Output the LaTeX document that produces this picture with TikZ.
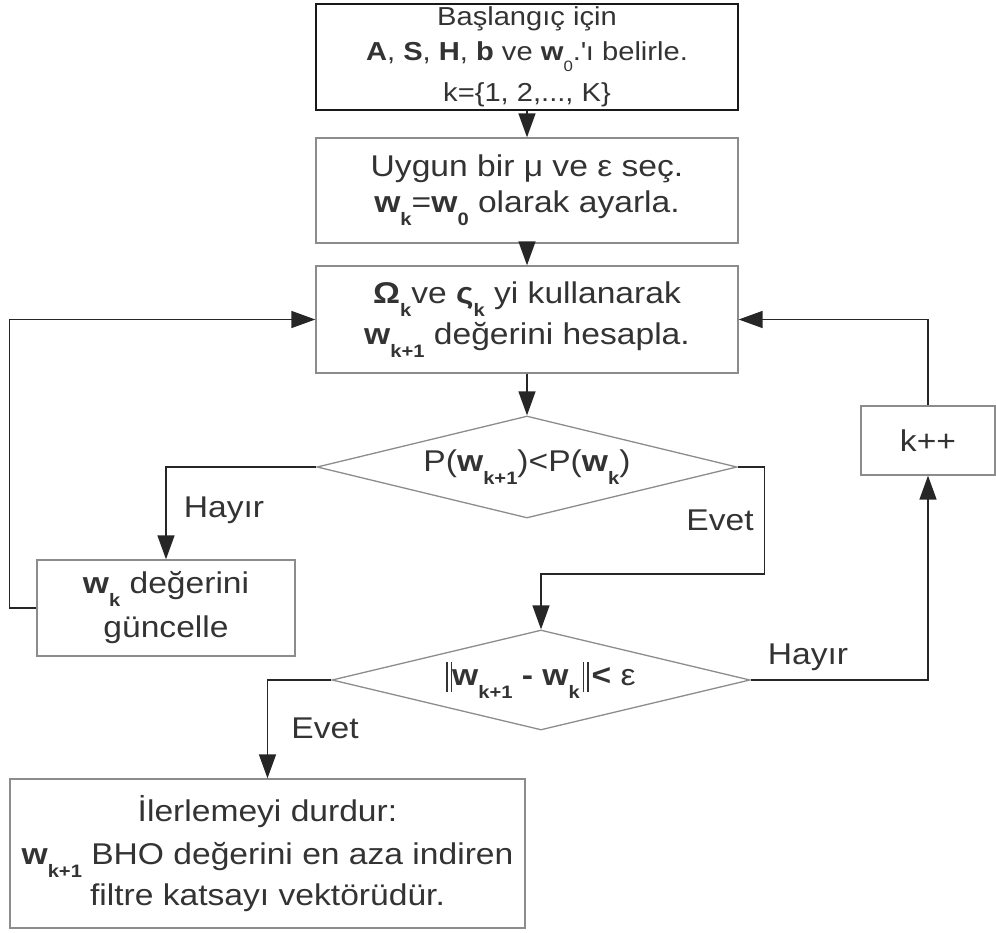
\documentclass[tikz,border=0pt]{standalone}
\usepackage{fontspec}
\setmainfont[FakeStretch=1.12]{Liberation Sans}
\usepackage{tikz}
\usetikzlibrary{positioning,arrows.meta,shapes.geometric}
\definecolor{txtgray}{HTML}{333333}
\definecolor{boxgray}{HTML}{8C8C8C}
\newcommand{\sub}[1]{\raisebox{-0.42em}{\fontsize{18}{18}\selectfont #1}}
\newcommand{\bw}[1]{\textbf{w}\sub{\textbf{#1}}}
\newcommand{\nrm}{\rule[-0.22em]{1.6pt}{1em}\kern2.5pt\rule[-0.22em]{1.6pt}{1em}}

\begin{document}
\begin{tikzpicture}[x=1pt,y=-1pt,
    every node/.style={text=txtgray,font=\fontsize{30}{36}\selectfont},
    box/.style={draw=boxgray,line width=1.3pt,rectangle,align=center,inner sep=0pt},
    decision/.style={draw=boxgray,line width=1.3pt,diamond,shape aspect=4,inner sep=0pt,
        minimum width=420pt,minimum height=102pt},
    conn/.style={draw=black!85,line width=1.5pt,-{Triangle[length=24pt,width=17pt]}},
    lbl/.style={inner sep=0pt}]
    \useasboundingbox (0,0) rectangle (996,933);

    \node[box,draw=black!90,line width=1.6pt,minimum width=422pt,minimum height=106pt,
          font=\fontsize{26}{34}\selectfont] (init) at (527,57)
        {Başlangıç için\\[1pt] \textbf{A}, \textbf{S}, \textbf{H}, \textbf{b} ve \textbf{w}\raisebox{-0.42em}{\fontsize{15}{15}\selectfont 0}.\textquotesingle ı belirle.\\[7pt] k=\{1, 2,..., K\}};
    \node[box,minimum width=422pt,minimum height=105pt] (choose) at (527,190.5)
        {Uygun bir μ ve ε seç.\\ \bw{k}=\bw{0} olarak ayarla.};
    \node[box,minimum width=422pt,minimum height=107pt] (compute) at (527,319.5)
        {\textbf{Ω}\sub{\textbf{k}}ve \textbf{ς}\sub{\textbf{k}} yi kullanarak\\[5pt] \bw{k+1} değerini hesapla.};

    \node[decision] (test1) at (527,467) {P(\bw{k+1})<P(\bw{k})};
    \node[box,minimum width=258pt,minimum height=96pt] (upd) at (166,608)
        {\bw{k} değerini\\[8pt] güncelle};
    \node[box,minimum width=134pt,minimum height=69pt] (kpp) at (928,440.5) {k++};

    \node[decision,minimum width=418pt,minimum height=100pt] (conv) at (541,680)
        {\nrm\bw{k+1} \textbf{-} \bw{k}\kern3pt\nrm\kern3pt\textbf{<} ε};
    \node[box,minimum width=515pt,minimum height=149pt] (final) at (267.5,853.5)
        {İlerlemeyi durdur:\\[7pt] \bw{k+1} BHO değerini en aza indiren\\[5pt] filtre katsayı vektörüdür.};

    % labels
    \node[lbl] (no1)  at (224,510) {Hayır};
    \node[lbl] (yes1) at (720,520) {Evet};
    \node[lbl] (no2)  at (808,657) {Hayır};
    \node[lbl] (yes2) at (325,728) {Evet};

    % connectors
    \draw[conn] (init) -- (choose);
    \draw[conn] (choose) -- (compute);
    \draw[conn] (compute) -- (test1);
    \draw[conn] (test1.west) -| (upd.north);
    \draw[conn] (upd.west) -- ++(-27,0) |- (compute.west);
    \draw[conn] (test1.east) -| ++(27,107) -| (conv.north);
    \draw[conn] (conv.east) -| (kpp.south);
    \draw[conn] (kpp.north) |- (compute.east);
    \draw[conn] (conv.west) -| (final.north);
\end{tikzpicture}
\end{document}
